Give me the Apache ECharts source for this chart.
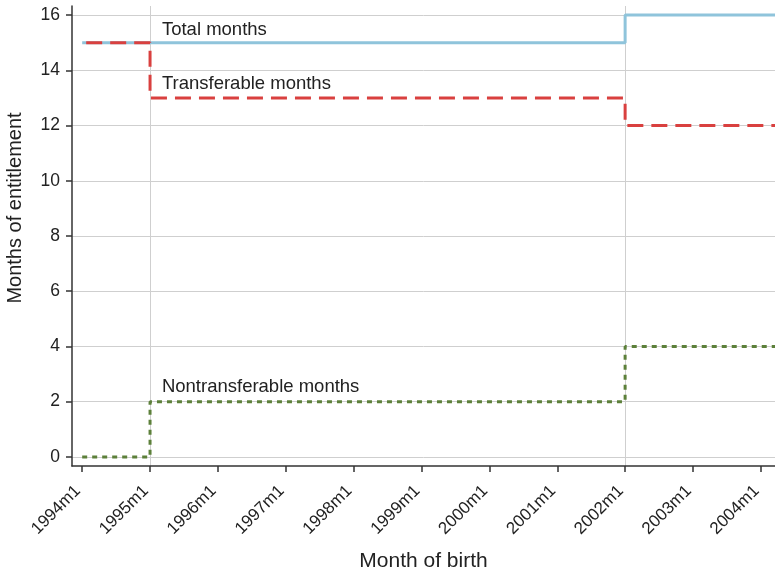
<!DOCTYPE html>
<html>
<head>
<meta charset="utf-8">
<script src="https://cdn.jsdelivr.net/npm/echarts@6/dist/echarts.min.js"></script>
<style>
  html, body { margin: 0; padding: 0; background: #fff; }
  #chart { width: 775px; height: 574px; }
</style>
</head>
<body>
<div id="chart"></div>
<script>
// Months are counted from 1994m1 (= 0).
const tickMonths = [0, 12, 24, 36, 48, 60, 72, 84, 96, 108, 120];
const tickLabels = ['1994m1', '1995m1', '1996m1', '1997m1', '1998m1', '1999m1',
                    '2000m1', '2001m1', '2002m1', '2003m1', '2004m1'];
const yTicks = [0, 2, 4, 6, 8, 10, 12, 14, 16];

// Step points: each value holds until the next point.
const totalMonths = [[0, 15], [96, 16], [132, 16]];
const transferableMonths = [[0, 15], [12, 13], [96, 12], [132, 12]];
const nontransferableMonths = [[0, 0], [12, 2], [96, 4], [132, 4]];

// Reform dates marked with vertical lines
const reformMonths = [12, 96];

// Series captions: [month, value, text]
const captions = [
  [14.1, 15.48, 'Total months'],
  [14.1, 13.5, 'Transferable months'],
  [14.1, 2.54, 'Nontransferable months']
];

const FONT = '"Liberation Sans", Arial, Helvetica, sans-serif';
const labelMap = {};
tickMonths.forEach((m, i) => { labelMap[m] = tickLabels[i]; });

const chart = echarts.init(document.getElementById('chart'), null, { renderer: 'canvas' });

chart.setOption({
  animation: false,
  backgroundColor: '#ffffff',
  grid: { left: 72, right: 0, top: 6, bottom: 108, containLabel: false, outerBoundsMode: 'none' },
  graphic: [{
    type: 'text',
    x: 15,
    y: 208,
    rotation: Math.PI / 2,
    style: {
      text: 'Months of entitlement',
      font: '20px ' + FONT,
      fill: '#222',
      align: 'center',
      verticalAlign: 'middle'
    }
  }],
  xAxis: {
    type: 'value',
    min: -1.8,
    max: 122.5,
    name: 'Month of birth',
    nameLocation: 'middle',
    nameGap: 85,
    nameTextStyle: { fontFamily: FONT, fontSize: 21, color: '#222' },
    axisLine: { show: true, onZero: false, lineStyle: { color: '#333', width: 1.5 } },
    axisTick: { show: true, length: 6, customValues: tickMonths, lineStyle: { color: '#333', width: 1.5 } },
    axisLabel: {
      customValues: tickMonths,
      formatter: v => labelMap[v] || '',
      rotate: 45,
      margin: 18,
      padding: [0, 6, 0, 0],
      fontFamily: FONT,
      fontSize: 17,
      color: '#222'
    },
    splitLine: { show: false }
  },
  yAxis: {
    type: 'value',
    min: -0.33,
    max: 16.33,
    axisLine: { show: true, onZero: false, lineStyle: { color: '#333', width: 1.5 } },
    axisTick: { show: true, length: 6, customValues: yTicks, lineStyle: { color: '#333', width: 1.5 } },
    axisLabel: {
      customValues: yTicks,
      margin: 12,
      fontFamily: FONT,
      fontSize: 17.5,
      color: '#222'
    },
    splitLine: { show: false }
  },
  series: [
    {
      // gridlines, kept beneath the data lines
      type: 'line',
      data: [],
      silent: true,
      z: 0,
      markLine: {
        z: 0,
        symbol: 'none',
        silent: true,
        label: { show: false },
        lineStyle: { color: '#cfcfcf', width: 1, type: 'solid' },
        emphasis: { disabled: true },
        data: yTicks.map(v => ({ yAxis: v }))
          .concat(reformMonths.map(m => ({ xAxis: m })))
      }
    },
    {
      name: 'Total months',
      type: 'line',
      step: 'end',
      data: totalMonths,
      showSymbol: false,
      z: 3,
      lineStyle: { color: '#8fc4db', width: 3 }
    },
    {
      name: 'Transferable months',
      type: 'line',
      step: 'end',
      data: transferableMonths,
      showSymbol: false,
      z: 4,
      lineStyle: { color: '#d9403f', width: 3, type: [16, 8], dashOffset: -4 }
    },
    {
      name: 'Nontransferable months',
      type: 'line',
      step: 'end',
      data: nontransferableMonths,
      showSymbol: false,
      z: 4,
      lineStyle: { color: '#5c803a', width: 3, type: [5, 5] }
    },
    {
      type: 'scatter',
      data: captions,
      symbolSize: 0,
      silent: true,
      z: 5,
      itemStyle: { opacity: 1 },
      label: {
        show: true,
        position: 'inside',
        align: 'left',
        verticalAlign: 'middle',
        formatter: p => p.data[2],
        fontFamily: FONT,
        fontSize: 18.5,
        color: '#222',
        opacity: 1,
        textBorderWidth: 0
      }
    }
  ]
});
</script>
</body>
</html>
